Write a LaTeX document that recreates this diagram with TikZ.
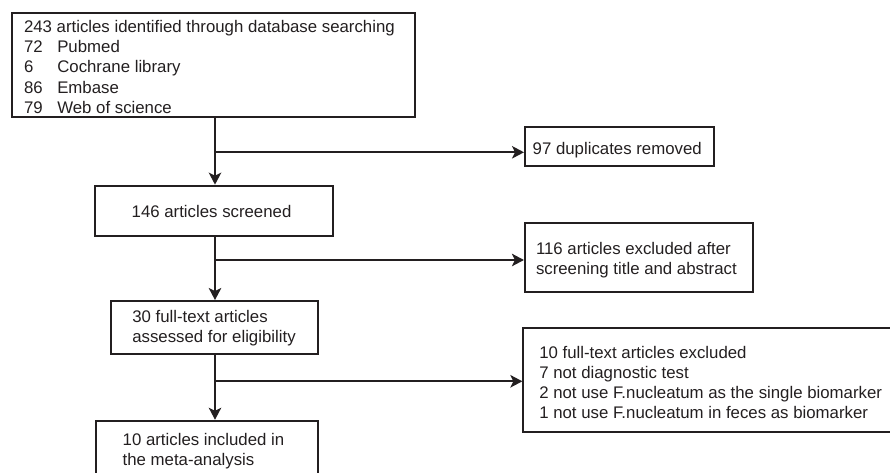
\documentclass[tikz,border=0pt]{standalone}
\usepackage{fontspec}
\setmainfont{Liberation Sans}
\usetikzlibrary{arrows.meta}
\definecolor{ink}{RGB}{35,31,32}
% zero-size text block: first line's baseline-left placed at (dx,dy) from node centre
\newcommand{\bxtext}[3]{\makebox[0pt][l]{\hspace*{#1pt}\raisebox{#2pt}[0pt][0pt]{\begin{tabular}[t]{@{}l@{}}#3\end{tabular}}}}
\newcommand{\numcol}[1]{\makebox[33.3pt][l]{#1}}
\tikzset{
  box/.style={draw=ink, line width=2pt, inner sep=0pt, text=ink,
    font=\fontsize{16.8}{20.2}\selectfont},
  arr/.style={draw=ink, line width=1.8pt, -{Stealth[length=12pt,width=12.5pt,inset=3pt]}},
}
\begin{document}
\begin{tikzpicture}[x=1pt,y=-1pt]
\useasboundingbox (0,0) rectangle (890,473);

\node[box, minimum width=403pt, minimum height=104.6pt] (b1) at (213.5,65)
  {\bxtext{-189.5}{32.5}{243 articles identified through database searching\\
   \numcol{72}Pubmed\\ \numcol{6}Cochrane library\\ \numcol{86}Embase\\ \numcol{79}Web of science}};

\node[box, minimum width=238.3pt, minimum height=50.3pt] (b2) at (214.2,210.8)
  {\bxtext{-82.5}{-6.5}{146 articles screened}};

\node[box, minimum width=207.3pt, minimum height=53.3pt] (b3) at (214.7,327.7)
  {\bxtext{-82.4}{5.4}{30 full-text articles\\ assessed for eligibility}};

\node[box, minimum width=222.3pt, minimum height=57.3pt] (b4) at (207.2,449.4)
  {\bxtext{-84.5}{4.4}{10 articles included in\\ the meta-analysis}};

\node[box, minimum width=189pt, minimum height=38.7pt] (e1) at (619.5,146.7)
  {\bxtext{-86.8}{-7.3}{97 duplicates removed}};

\node[box, minimum width=227.7pt, minimum height=69.6pt] (e2) at (638.8,257.5)
  {\bxtext{-102.8}{3.5}{116 articles excluded after\\ screening title and abstract}};

\node[box, minimum width=371.7pt, minimum height=104pt] (e3) at (709.2,379.7)
  {\bxtext{-169.9}{21.4}{10 full-text articles excluded\\ 7 not diagnostic test\\
   2 not use F.nucleatum as the single biomarker\\ 1 not use F.nucleatum in feces as biomarker}};

\coordinate (sp) at (215,0);
\coordinate (j1) at (215,152.3);
\coordinate (j2) at (215,260);
\coordinate (j3) at (215,381.3);

\draw[arr] (b1.south -| sp) -- (b2.north -| sp);
\draw[arr] (b2.south -| sp) -- (b3.north -| sp);
\draw[arr] (b3.south -| sp) -- (b4.north -| sp);
\draw[arr] (j1) -- (j1 -| e1.west);
\draw[arr] (j2) -- (j2 -| e2.west);
\draw[arr] (j3) -- (j3 -| e3.west);
\end{tikzpicture}
\end{document}
